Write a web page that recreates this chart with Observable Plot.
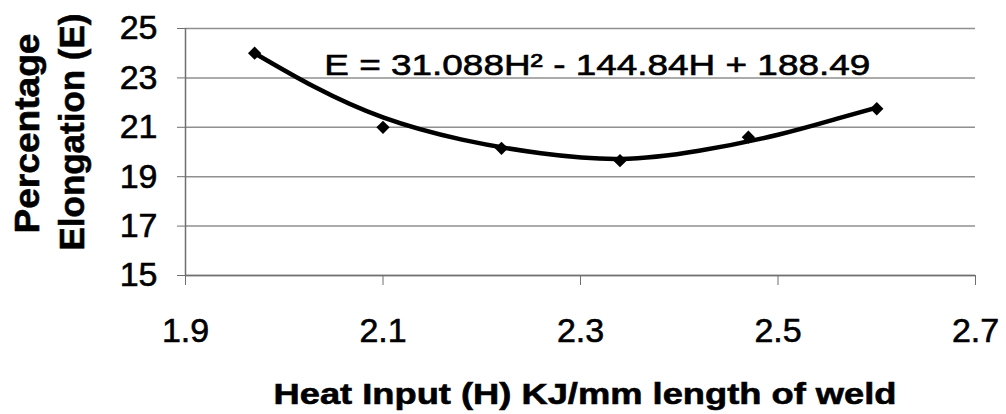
<!DOCTYPE html>
<html><head><meta charset="utf-8">
<script src="https://cdn.jsdelivr.net/npm/d3@7"></script>
<script src="https://cdn.jsdelivr.net/npm/@observablehq/plot@0.6"></script>
<style>body{margin:0;background:#fff} #chart svg text{stroke:#000;stroke-width:0.6px}</style>
</head><body><div id="chart"></div>
<script>
// Observed data points
const heatInput = [1.97, 2.10, 2.22, 2.34, 2.47, 2.60];
const elongation = [24.0, 21.0, 20.15, 19.65, 20.6, 21.75];
// Trendline
const trendH = [1.97, 2.03, 2.10, 2.18, 2.26, 2.34, 2.42, 2.50, 2.56, 2.60];
const trendE = [24.0, 22.65, 21.4, 20.5, 19.95, 19.72, 20.05, 20.7, 21.35, 21.8];
const xTicks = [1.9, 2.1, 2.3, 2.5, 2.7];
const yTicks = [15, 17, 19, 21, 23, 25];
const equation = "E = 31.088H² - 144.84H + 188.49";
const xTitle = "Heat Input (H) KJ/mm length of weld";
const yTitle = ["Percentage", "Elongation (E)"];

const points = heatInput.map((h, i) => ({h, e: elongation[i]}));
const trend = trendH.map((h, i) => ({h, e: trendE[i]}));

const font = "'Liberation Sans', Arial, sans-serif";
const plot = Plot.plot({
  width: 1006, height: 414,
  marginLeft: 185, marginRight: 31, marginTop: 28, marginBottom: 139,
  x: {domain: [1.9, 2.7]},
  y: {domain: [15, 25]},
  style: {fontFamily: font, background: "#fff", color: "#000"},
  marks: [
    Plot.gridY(yTicks, {stroke: "#8f8f8f", strokeOpacity: 1, strokeWidth: 1.5}),
    Plot.ruleY([15], {stroke: "#6f6f6f", strokeWidth: 1.5}),
    Plot.ruleX([1.9], {stroke: "#6f6f6f", strokeWidth: 1.5}),
    Plot.axisY(yTicks, {tickSize: 8, tickPadding: 20, fontSize: 34, label: null, stroke: "#6f6f6f", fill: "#000", tickFormat: d => String(d)}),
    Plot.axisX(xTicks, {tickSize: 10, tickPadding: 32, fontSize: 34, label: null, stroke: "#6f6f6f", fill: "#000", tickFormat: d => d.toFixed(1)}),
    Plot.line(trend, {x: "h", y: "e", stroke: "#000", strokeWidth: 4.5, curve: "natural"}),
    Plot.dot(points, {x: "h", y: "e", symbol: "diamond2", r: 6, fill: "#000", stroke: "none"}),
    Plot.text([equation], {x: () => 2.317, y: () => 23.49, text: d => d, fontSize: 30, textAnchor: "middle", lineAnchor: "middle", fill: "#000"}),
    Plot.text([xTitle], {frameAnchor: "bottom", dx: 4.5, dy: 119, text: d => d, fontSize: 30, fontWeight: "bold", textAnchor: "middle", lineAnchor: "middle", fill: "#000"}),
    Plot.text([yTitle[0]], {frameAnchor: "left", dx: 27 - 185, dy: 133 - 151.5, rotate: -90, text: d => d, fontSize: 35, fontWeight: "bold", textAnchor: "middle", lineAnchor: "middle", fill: "#000"}),
    Plot.text([yTitle[1]], {frameAnchor: "left", dx: 72 - 185, dy: 131.5 - 151.5, rotate: -90, text: d => d, fontSize: 35, fontWeight: "bold", textAnchor: "middle", lineAnchor: "middle", fill: "#000"})
  ]
});
const lengths = {[equation]: 546, [xTitle]: 623, [yTitle[0]]: 200, [yTitle[1]]: 237};
plot.querySelectorAll("text").forEach(t => {
  const L = lengths[t.textContent];
  if (L) { t.setAttribute("textLength", L); t.setAttribute("lengthAdjust", "spacingAndGlyphs"); }
});
document.getElementById("chart").appendChild(plot);
</script>
</body></html>
